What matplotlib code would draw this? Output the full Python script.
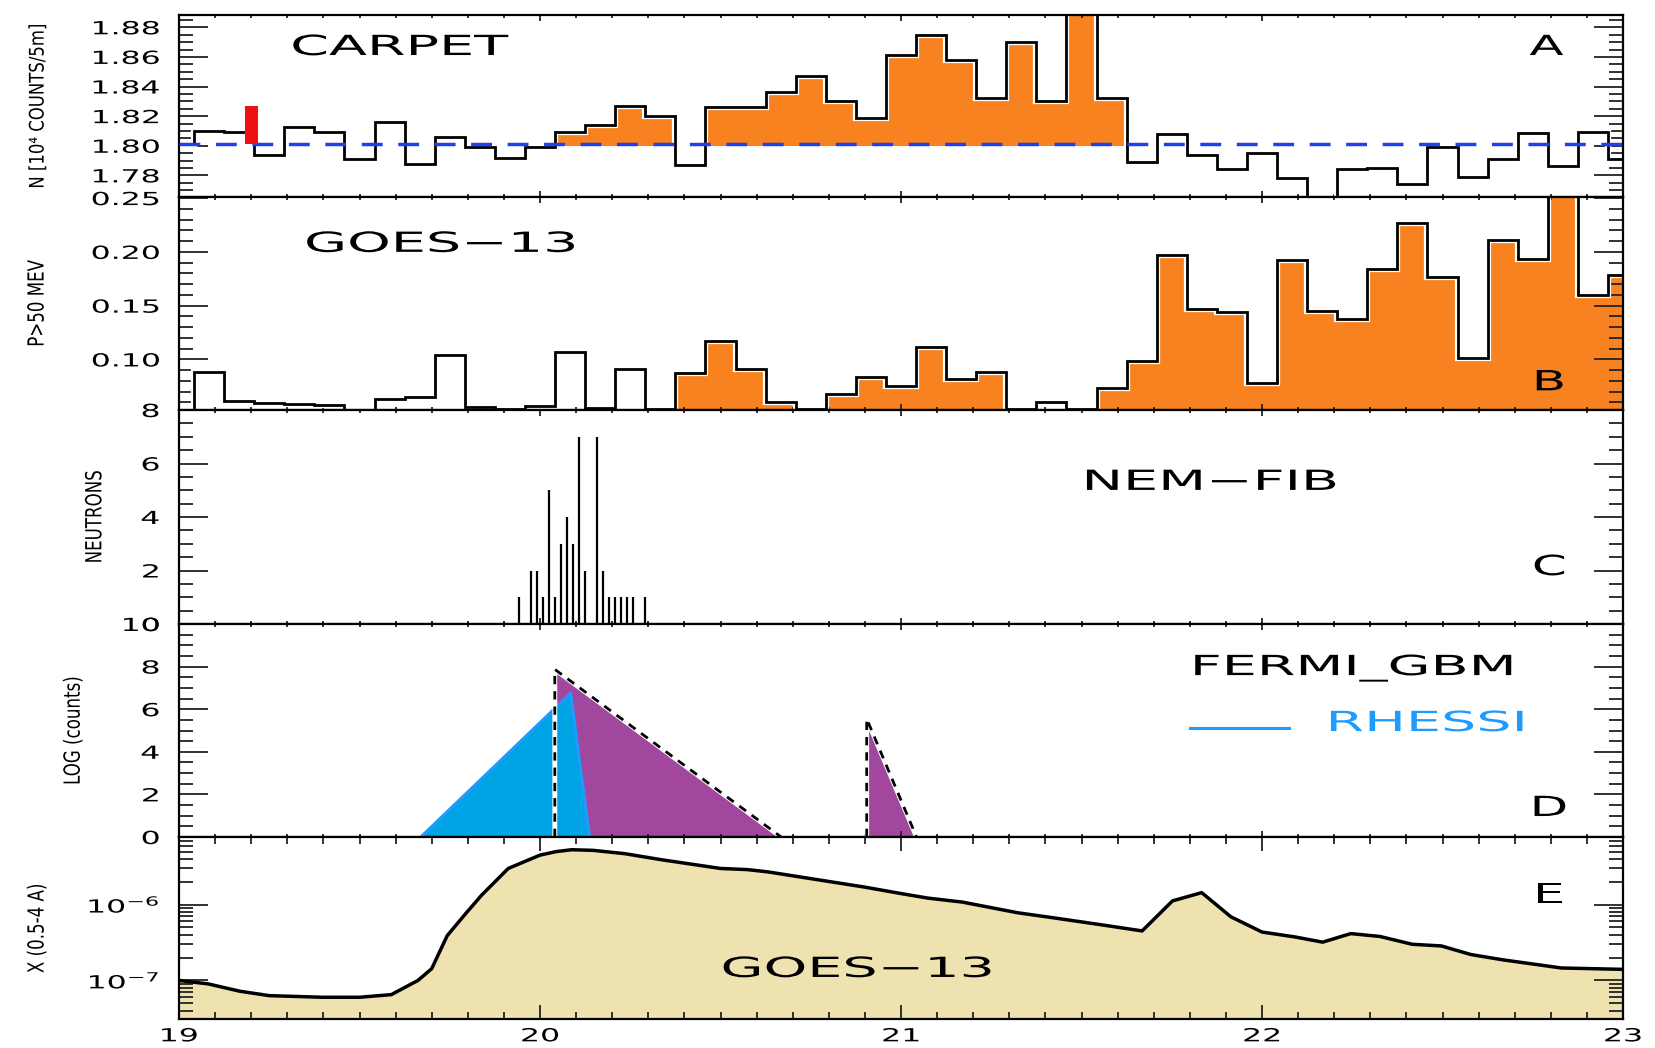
import numpy as np
import matplotlib.pyplot as plt
from matplotlib.ticker import MultipleLocator, LogLocator, NullFormatter, FormatStrFormatter
from matplotlib.patheffects import AbstractPathEffect
from matplotlib.transforms import Affine2D

plt.rcParams['font.family'] = 'DejaVu Sans'

# ---------------- data ----------------
# 5-minute bins in UT hours, first bin starts at 18:57.5
bin_start = 18 + 57.5 / 60
bin_width = 5 / 60

# A: CARPET, 10^4 counts / 5 min
carpet = [1.801, 1.810, 1.809, 1.7935, 1.813, 1.809, 1.791, 1.816, 1.788, 1.806,
          1.799, 1.792, 1.799, 1.809, 1.814, 1.827, 1.820, 1.787, 1.826, 1.826,
          1.836, 1.847, 1.830, 1.819, 1.861, 1.875, 1.858, 1.832, 1.870, 1.830,
          1.895, 1.832, 1.789, 1.808, 1.7935, 1.784, 1.795, 1.778, 1.760, 1.784,
          1.785, 1.774, 1.799, 1.779, 1.791, 1.8085, 1.786, 1.809, 1.791]
carpet_excess_bins = list(range(13, 17)) + list(range(18, 32))
carpet_mean = 1.8013
carpet_base = 1.800
marker_time = 19.20
marker_top = 1.827

# B: GOES-13 protons > 50 MeV
goes_p = [0.050, 0.0886, 0.0613, 0.0592, 0.0583, 0.0573, 0.053, 0.0629, 0.0654, 0.104,
          0.0558, 0.0536, 0.0567, 0.1068, 0.0545, 0.0913, 0.0536, 0.0876, 0.1176, 0.0907,
          0.0607, 0.0536, 0.0675, 0.0839, 0.0753, 0.1118, 0.0821, 0.0882, 0.0536, 0.0607,
          0.0536, 0.0737, 0.0985, 0.1974, 0.147, 0.1439, 0.0784, 0.1921, 0.1448, 0.1377,
          0.1844, 0.2268, 0.1767, 0.1015, 0.2107, 0.1937, 0.260, 0.1603, 0.1788]
goes_p_excess_bins = list(range(17, 28)) + list(range(31, 49))

# C: NEM-FIB neutrons, 1-minute counts (minutes after 19:00 UT)
nem_minute = [56.5, 58.5, 59.5, 60.5, 61.5, 62.5, 63.5, 64.5, 65.5, 66.5,
              67.5, 69.5, 70.5, 71.5, 72.5, 73.5, 74.5, 75.5, 77.5]
nem_counts = [1, 2, 2, 1, 5, 1, 3, 4, 3, 7, 2, 7, 2, 1, 1, 1, 1, 1, 1]

# D: FERMI GBM and RHESSI, log(counts)
gbm1_t = [20.041, 20.041, 20.668]
gbm1_v = [0, 7.87, 0]
gbm2_t = [20.905, 20.905, 21.043]
gbm2_v = [0, 5.55, 0]
rhessi_t = [19.670, 20.085, 20.137]
rhessi_v = [0, 6.75, 0]

# E: GOES-13 X-ray flux 0.5-4 A
xray_t = [19.0, 19.081, 19.169, 19.25, 19.397, 19.5, 19.588, 19.662, 19.70, 19.743,
          19.794, 19.838, 19.912, 20.0, 20.044, 20.088, 20.147, 20.235, 20.338, 20.5,
          20.574, 20.632, 20.806, 20.897, 21.0, 21.074, 21.170, 21.324, 21.413, 21.546,
          21.668, 21.752, 21.833, 21.914, 22.0, 22.091, 22.168, 22.246, 22.327, 22.416,
          22.497, 22.578, 22.667, 22.829, 23.0]
xray_flux = [1.0e-7, 9.0e-8, 7.2e-8, 6.3e-8, 6.0e-8, 6.0e-8, 6.5e-8, 1.0e-7, 1.43e-7, 3.9e-7,
             7.6e-7, 1.33e-6, 3.0e-6, 4.5e-6, 5.0e-6, 5.3e-6, 5.2e-6, 4.7e-6, 3.9e-6, 3.0e-6,
             2.9e-6, 2.7e-6, 2.0e-6, 1.71e-6, 1.40e-6, 1.22e-6, 1.08e-6, 7.8e-7, 6.8e-7, 5.5e-7,
             4.5e-7, 1.12e-6, 1.44e-6, 6.9e-7, 4.35e-7, 3.75e-7, 3.2e-7, 4.15e-7, 3.8e-7, 3.0e-7,
             2.85e-7, 2.2e-7, 1.87e-7, 1.46e-7, 1.40e-7]

ORANGE = '#F7821F'
PURPLE = '#A1489E'
BLUE = '#00A3E3'
LBLUE = '#1E9BFF'
TAN = '#EFE2B1'


# IDL-style lettering: wide labels, narrow axis titles
class Stretch(AbstractPathEffect):
    def __init__(self, sx, anchor='left'):
        super().__init__()
        self.sx = sx
        self.anchor = anchor

    def draw_path(self, renderer, gc, tpath, affine, rgbFace=None):
        ext = tpath.get_extents()
        x0 = {'left': 0, 'right': ext.x1, 'center': (ext.x0 + ext.x1) / 2}[self.anchor]
        st = Affine2D().translate(-x0, 0).scale(self.sx, 1).translate(x0, 0)
        renderer.draw_path(gc, tpath, st + affine, rgbFace)


WIDE = [Stretch(2.0, 'left')]
WIDE_C = [Stretch(1.8, 'center')]

# ---------------- figure ----------------
W, H = 1655, 1048
fig = plt.figure(figsize=(W / 100, H / 100), dpi=100)
left, right = 179, 1623
edges_px = [15, 197, 410, 624, 837, 1019]
axes = []
for i in range(5):
    top, bot = edges_px[i], edges_px[i + 1]
    ax = fig.add_axes([left / W, 1 - bot / H, (right - left) / W, (bot - top) / H],
                      sharex=axes[0] if axes else None)
    axes.append(ax)
axA, axB, axC, axD, axE = axes


def style(ax, ymaj, ymin, last=False):
    for s in ax.spines.values():
        s.set_linewidth(1.6)
    ax.tick_params(which='both', direction='in', top=True, right=True,
                   width=1.3, labelsize=13, color='#222222')
    ax.tick_params(axis='y', which='major', length=21, pad=14)
    ax.tick_params(axis='y', which='minor', length=10)
    if last:
        ax.tick_params(axis='x', which='major', length=10, pad=6)
        ax.tick_params(axis='x', which='minor', length=5)
        ax.xaxis.set_minor_locator(MultipleLocator(0.1))
    else:
        ax.tick_params(axis='x', which='major', length=4.5, labelbottom=False)
        ax.tick_params(axis='x', which='minor', length=2.5)
        ax.xaxis.set_minor_locator(MultipleLocator(1 / 6))
    if ymaj is not None:
        ax.yaxis.set_major_locator(MultipleLocator(ymaj))
        ax.yaxis.set_minor_locator(MultipleLocator(ymin))


def label(ax, text, xpos, size=16, sx=0.75):
    ax.set_ylabel(text, fontsize=size)
    ax.yaxis.set_label_coords(xpos, 0.5)
    ax.yaxis.label.set_path_effects([Stretch(sx, 'center')])


def tag(ax, x, y, s, ha='left', **kw):
    ax.text(x, y, s, transform=ax.transAxes, fontsize=20, ha=ha, va='center',
            path_effects=WIDE if ha == 'left' else WIDE_C, **kw)


edges = bin_start + bin_width * np.arange(len(carpet) + 1)

# ---- A: CARPET
mask_a = np.zeros(len(carpet), bool)
mask_a[carpet_excess_bins] = True
axA.stairs(np.where(mask_a, carpet, carpet_base), edges, baseline=carpet_base,
           fill=True, color=ORANGE, zorder=1)
axA.stairs(carpet, edges, baseline=None, color='white', lw=4.5, zorder=2)
axA.stairs(carpet, edges, baseline=None, color='black', lw=2, zorder=3)
axA.axhline(carpet_mean, color='#2040F0', lw=2.5, ls=(0, (6, 4.5)), zorder=4)
axA.bar([marker_time], [marker_top - carpet_mean], bottom=carpet_mean, width=0.035,
        color='#EE1111', zorder=5)
axA.set_xlim(19, 23)
axA.set_ylim(1.7654, 1.8883)
axA.yaxis.set_major_formatter(FormatStrFormatter('%.2f'))
style(axA, 0.02, 0.005)
label(axA, 'N [10\u2074 COUNTS/5m]', -0.091, size=14.5, sx=0.82)
tag(axA, 0.077, 0.824, 'CARPET')
tag(axA, 0.947, 0.824, 'A', ha='center')

# ---- B: GOES-13 protons
mask_b = np.zeros(len(goes_p), bool)
mask_b[goes_p_excess_bins] = True
axB.stairs(np.where(mask_b, goes_p, 0.04), edges, baseline=0.04,
           fill=True, color=ORANGE, zorder=1)
axB.stairs(goes_p, edges, baseline=None, color='white', lw=4.5, zorder=2)
axB.stairs(goes_p, edges, baseline=None, color='black', lw=2, zorder=3)
axB.set_ylim(0.053, 0.251)
axB.yaxis.set_major_formatter(FormatStrFormatter('%.2f'))
style(axB, 0.05, 0.01)
label(axB, 'P>50 MEV', -0.091)
tag(axB, 0.0866, 0.78, 'GOES\u221213')
tag(axB, 0.949, 0.13, 'B', ha='center')

# ---- C: NEM-FIB neutrons
nem_t = 19 + np.array(nem_minute) / 60
axC.vlines(nem_t, 0, nem_counts, color='black', lw=1.6)
axC.set_ylim(0, 8)
style(axC, 2, 0.5)
label(axC, 'NEUTRONS', -0.051)
tag(axC, 0.625, 0.664, 'NEM\u2212FIB')
tag(axC, 0.949, 0.266, 'C', ha='center')

# ---- D: FERMI GBM / RHESSI
for t, v in [(gbm1_t, gbm1_v), (gbm2_t, gbm2_v)]:
    axD.fill(t, v, color=PURPLE, lw=0, zorder=1)
axD.fill(rhessi_t, rhessi_v, color=BLUE, lw=0, zorder=2)
axD.plot(rhessi_t, rhessi_v, color=LBLUE, lw=2.2, zorder=3)
for t, v in [(gbm1_t, gbm1_v), (gbm2_t, gbm2_v)]:
    axD.plot(t, v, color='white', lw=3.5, zorder=4)
    axD.plot(t, v, color='black', lw=2, ls=(0, (3, 2.5)), zorder=5)
axD.set_ylim(0, 10)
style(axD, 2, 0.5)
label(axD, 'LOG (counts)', -0.066)
tag(axD, 0.700, 0.793, 'FERMI_GBM')
axD.plot([0.700, 0.769], [0.512, 0.512], transform=axD.transAxes, color=LBLUE, lw=2.2)
tag(axD, 0.794, 0.535, 'RHESSI', color=LBLUE)
tag(axD, 0.949, 0.136, 'D', ha='center')

# ---- E: GOES-13 X-ray
axE.set_yscale('log')
axE.fill_between(xray_t, xray_flux, 1e-9, color=TAN, lw=0, zorder=1)
axE.plot(xray_t, xray_flux, color='black', lw=2.5, zorder=2)
axE.set_ylim(3.1e-8, 7.8e-6)
style(axE, None, None, last=True)
axE.yaxis.set_major_locator(LogLocator(base=10, numticks=10))
axE.yaxis.set_minor_locator(LogLocator(base=10, subs=np.arange(2, 10), numticks=20))
axE.yaxis.set_minor_formatter(NullFormatter())
axE.xaxis.set_major_locator(MultipleLocator(1))
axE.xaxis.set_major_formatter(FormatStrFormatter('%d'))
label(axE, 'X (0.5-4 A)', -0.091)
tag(axE, 0.375, 0.275, 'GOES\u221213')
tag(axE, 0.949, 0.681, 'E', ha='center')

# widen the tick numbers the way the IDL font does
fig.canvas.draw()
for ax in axes:
    for tk in ax.yaxis.get_major_ticks():
        tk.label1.set_path_effects([Stretch(1.75, 'right')])
    for tk in ax.xaxis.get_major_ticks():
        tk.label1.set_path_effects([Stretch(1.75, 'center')])

fig.savefig('out.png', dpi=100)
